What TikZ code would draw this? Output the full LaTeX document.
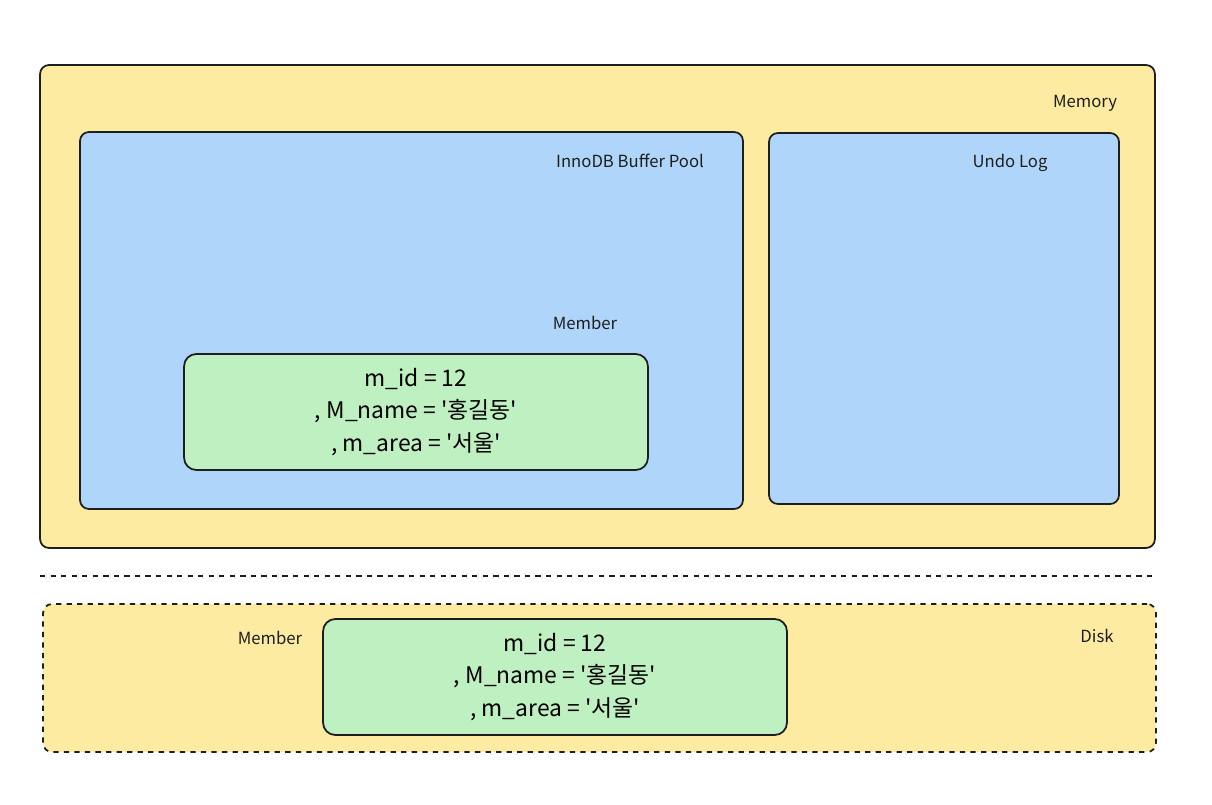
\documentclass[tikz,border=0pt]{standalone}
\usepackage{fontspec}
\setmainfont{Noto Sans CJK KR}
\usepackage{xcolor}
\usepackage{tikz}
\usetikzlibrary{positioning,calc}
\definecolor{memfill}{HTML}{FCEBA1}
\definecolor{poolfill}{HTML}{AFD6FA}
\definecolor{rowfill}{HTML}{BFF0C1}
\definecolor{inkline}{HTML}{1E1E1E}
\newcommand{\sq}{\textquotesingle}

\begin{document}
\begin{tikzpicture}[x=0.02cm,y=-0.02cm,
  area/.style={draw=inkline,line width=1pt,rounded corners=5pt,inner sep=0pt},
  mem/.style={area,fill=memfill},
  pool/.style={area,fill=poolfill},
  row/.style={area,fill=rowfill,rounded corners=7pt,align=center,
              font=\fontsize{13}{18.7}\selectfont},
  lbl/.style={font=\fontsize{9.5}{11}\selectfont,text=inkline,inner sep=0pt}]
\useasboundingbox (0,0) rectangle (1212,804);
% memory side
\node[mem,minimum width=22.3cm,minimum height=9.66cm] (memory) at (597.5,306.5) {};
\node[lbl] (memlbl) at (1085,103) {Memory};
\node[pool,minimum width=13.26cm,minimum height=7.54cm] (pool) at (411.5,320.5) {};
\node[lbl] (poollbl) at (630,161) {InnoDB Buffer Pool};
\node[pool,minimum width=7cm,minimum height=7.42cm] (undo) at (944,318.5) {};
\node[lbl] (undolbl) at (1010,163) {Undo Log};
\node[lbl] (memmember) at (585,323) {Member};
\node[row,minimum width=9.28cm,minimum height=2.32cm] (rowmem) at (416,412)
  {m\_id = 12\\, M\_name = \sq 홍길동\sq\\, m\_area = \sq 서울\sq};
% divider
\coordinate (divl) at (40,576);
\coordinate (divr) at (1152,576);
\draw[inkline,line width=1pt,dashed] (divl) -- (divr);
% disk side
\node[mem,dashed,minimum width=22.26cm,minimum height=2.96cm] (disk) at (599.5,678) {};
\node[lbl] (disklbl) at (1097,636) {Disk};
\node[lbl] (diskmember) at (270,638) {Member};
\node[row,minimum width=9.28cm,minimum height=2.32cm] (rowdisk) at (555,677)
  {m\_id = 12\\, M\_name = \sq 홍길동\sq\\, m\_area = \sq 서울\sq};
\end{tikzpicture}
\end{document}
